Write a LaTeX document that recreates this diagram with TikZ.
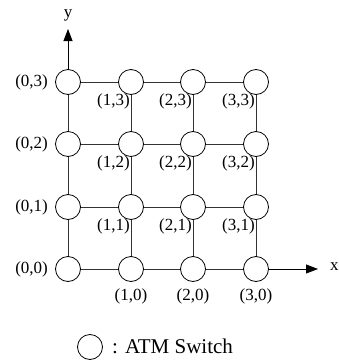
\documentclass[tikz,border=0pt]{standalone}
\usepackage{fontspec}
\setmainfont{Liberation Serif}
\usetikzlibrary{arrows.meta}
\begin{document}
\begin{tikzpicture}[x=1pt,y=-1pt,
  sw/.style={circle,draw=black,line width=0.8pt,minimum size=25pt,inner sep=0pt,fill=white},
  gridline/.style={draw=black!80,line width=0.8pt},
  axis/.style={draw=black,line width=0.8pt,-{Triangle[length=12pt,width=9pt]}},
  lab/.style={inner sep=0pt,font=\fontsize{17}{19}\selectfont},
  leg/.style={inner sep=0pt,font=\fontsize{21}{24}\selectfont}]
\useasboundingbox (0,0) rectangle (339,362);
% switches
\foreach \i/\x in {0/68,1/131,2/193,3/256}{
  \foreach \j/\y in {0/269,1/207,2/144,3/82}{
    \node[sw] (n\i\j) at (\x,\y) {};
  }
}
% grid lines
\foreach \j in {0,1,2,3}{
  \draw[gridline] (n0\j) -- (n1\j);
  \draw[gridline] (n1\j) -- (n2\j);
  \draw[gridline] (n2\j) -- (n3\j);
}
\foreach \i in {0,1,2,3}{
  \draw[gridline] (n\i0) -- (n\i1);
  \draw[gridline] (n\i1) -- (n\i2);
  \draw[gridline] (n\i2) -- (n\i3);
}
% axes
\coordinate (ytip) at (68,29);
\coordinate (xtip) at (318,269);
\draw[axis] (n03.north) -- (ytip);
\draw[axis] (n30.east) -- (xtip);
\node[lab] (ylab) at (68,15) {y};
\node[lab,anchor=west] (xlab) at (330,267) {x};
% left labels
\foreach \j in {0,1,2,3}{
  \node[lab,anchor=east] (l0\j) at ([xshift=-7pt]n0\j.west) {(0,\j)};
}
% bottom labels
\foreach \i in {1,2,3}{
  \node[lab,anchor=north] (l\i0) at ([yshift=-7pt]n\i0.south) {(\i,0)};
}
% inner labels
\foreach \i in {1,2,3}{
  \foreach \j in {1,2,3}{
    \node[lab,anchor=north east] (l\i\j) at ([xshift=-1pt,yshift=-12pt]n\i\j.center) {(\i,\j)};
  }
}
% legend
\node[sw] (legsw) at (90,347) {};
\node[leg,anchor=west] (legtxt) at (112,346) {: ATM Switch};
\end{tikzpicture}
\end{document}
